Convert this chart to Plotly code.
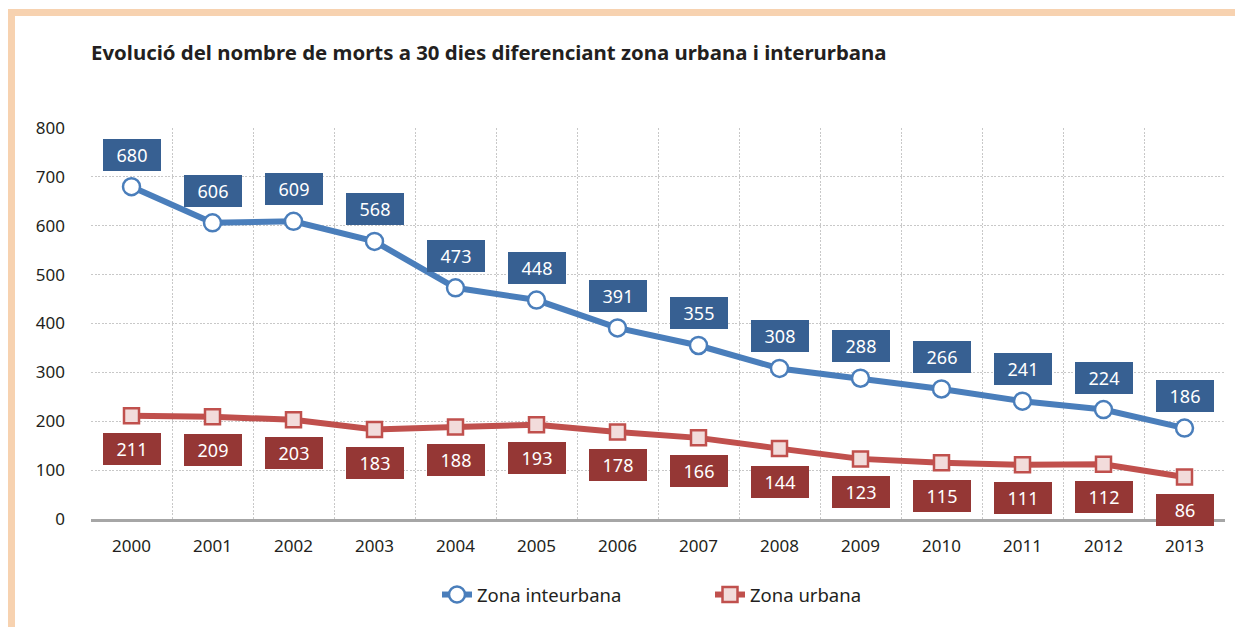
import plotly.graph_objects as go

years = ["2000", "2001", "2002", "2003", "2004", "2005", "2006", "2007",
         "2008", "2009", "2010", "2011", "2012", "2013"]
interurbana = [680, 606, 609, 568, 473, 448, 391, 355, 308, 288, 266, 241, 224, 186]
urbana = [211, 209, 203, 183, 188, 193, 178, 166, 144, 123, 115, 111, 112, 86]
y_ticks = [0, 100, 200, 300, 400, 500, 600, 700, 800]

FONT = "Noto Sans"
BLUE_LINE = "#4A7EBB"
BLUE_BOX = "#376092"
RED_LINE = "#C0504D"
RED_BOX = "#953735"
RED_FILL = "#F2DCDB"
PEACH = "#F7D2B0"
TXT = "#231F20"

fig = go.Figure()
fig.add_trace(go.Scatter(
    x=years, y=interurbana, name="Zona inteurbana", mode="lines+markers",
    line=dict(color=BLUE_LINE, width=6),
    marker=dict(symbol="circle", size=17, color="white",
                line=dict(color=BLUE_LINE, width=2.5)),
))
fig.add_trace(go.Scatter(
    x=years, y=urbana, name="Zona urbana", mode="lines+markers",
    line=dict(color=RED_LINE, width=6),
    marker=dict(symbol="square", size=15, color=RED_FILL,
                line=dict(color=RED_LINE, width=2.5)),
))

annotations = []
for i, v in enumerate(interurbana):
    annotations.append(dict(
        x=i, y=v, xref="x", yref="y", text=str(v), showarrow=False,
        yshift=32, width=58, height=32, bgcolor=BLUE_BOX, borderpad=0,
        borderwidth=0, font=dict(family=FONT, size=18, color="white")))
for i, v in enumerate(urbana):
    annotations.append(dict(
        x=i, y=v, xref="x", yref="y", text=str(v), showarrow=False,
        yshift=-33, width=58, height=32, bgcolor=RED_BOX, borderpad=0,
        borderwidth=0, font=dict(family=FONT, size=18, color="white")))

fig.update_layout(
    width=1235, height=619,
    margin=dict(l=83, r=18, t=120, b=108),
    paper_bgcolor="white", plot_bgcolor="white",
    font=dict(family=FONT, size=17, color=TXT),
    title=dict(text="<b>Evolució del nombre de morts a 30 dies diferenciant zona urbana i interurbana</b>",
               x=0, xref="paper", xanchor="left", y=1 - 45 / 619, yref="container",
               yanchor="middle", font=dict(family=FONT, size=20.4, color=TXT)),
    showlegend=True,
    legend=dict(orientation="h", x=(437 - 91) / 1134, xanchor="left",
                y=(519 - 595) / 391, yanchor="middle",
                font=dict(family=FONT, size=18.5, color=TXT),
                entrywidth=228, entrywidthmode="pixels",
                bgcolor="rgba(0,0,0,0)"),
    annotations=annotations,
    shapes=[
        dict(type="rect", xref="paper", yref="paper",
             x0=(8 - 91) / 1134, x1=(1243 - 91) / 1134 + 0.01,
             y0=(519 - 16) / 391, y1=(519 - 9) / 391,
             fillcolor=PEACH, line=dict(width=0), layer="above"),
        dict(type="rect", xref="paper", yref="paper",
             x0=(8 - 91) / 1134, x1=(15 - 91) / 1134,
             y0=(519 - 640) / 391, y1=(519 - 9) / 391,
             fillcolor=PEACH, line=dict(width=0), layer="above"),
    ],
)
fig.update_xaxes(
    type="category", range=[-0.5, 13.5], tickson="boundaries",
    showgrid=True, gridcolor="#C8C8C8", griddash="2px,1.5px", gridwidth=1,
    showline=True, linecolor="#A6A6A6", linewidth=2.5,
    ticks="", ticklabelstandoff=10, tickfont=dict(size=17),
    mirror=False, zeroline=False,
)
fig.update_yaxes(
    range=[0, 800], tickvals=y_ticks,
    showgrid=True, gridcolor="#C8C8C8", griddash="2px,1.5px", gridwidth=1,
    zeroline=False, showline=False, ticks="", ticklabelstandoff=25,
    tickfont=dict(size=17),
)

fig.write_html("out.html")
